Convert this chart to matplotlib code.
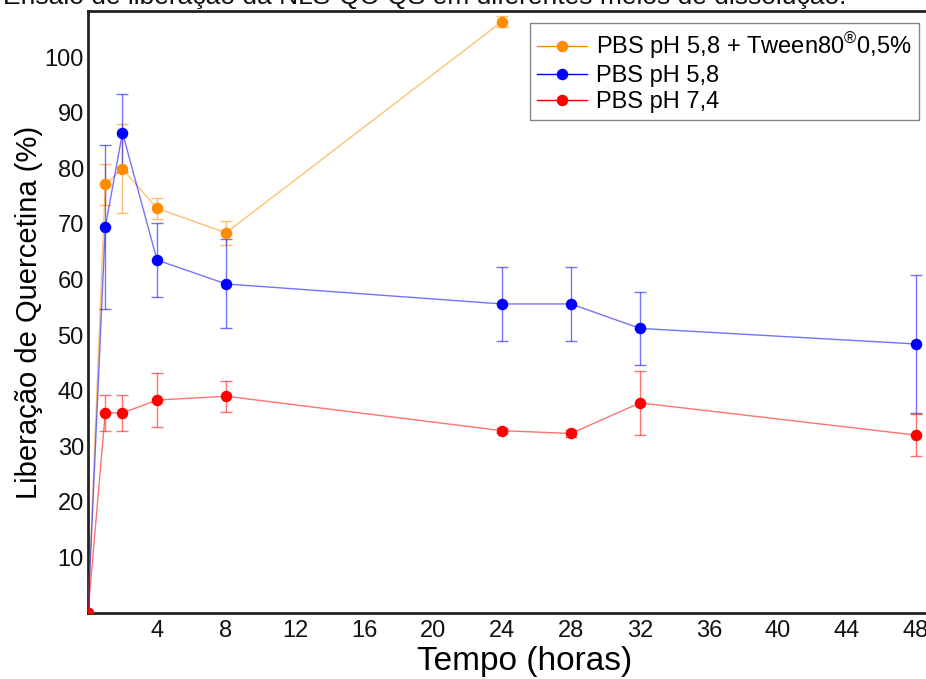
import matplotlib
matplotlib.use("Agg")
import matplotlib.pyplot as plt

plt.rcParams['font.family'] = ['Liberation Sans', 'DejaVu Sans']
plt.rcParams['mathtext.fontset'] = 'custom'
plt.rcParams['mathtext.rm'] = 'Liberation Sans'

# Release data (time in hours, % quercetin released, with SD)
tempo = [0, 1, 2, 4, 8, 24, 28, 32, 48]
tempo_tween = [0, 1, 2, 4, 8, 24]

tween_media = [0, 77.1, 79.9, 72.8, 68.4, 106.4]
tween_dp = [0, 3.7, 8.0, 1.9, 2.2, 1.0]

ph58_media = [0, 69.4, 86.4, 63.5, 59.2, 55.6, 55.6, 51.2, 48.4]
ph58_dp = [0, 14.8, 7.0, 6.6, 8.0, 6.6, 6.6, 6.5, 12.4]

ph74_media = [0, 36.0, 36.0, 38.3, 39.0, 32.8, 32.3, 37.8, 32.0]
ph74_dp = [0, 3.2, 3.2, 4.8, 2.8, 0.5, 0.6, 5.8, 3.8]

x_ticks = [4, 8, 12, 16, 20, 24, 28, 32, 36, 40, 44, 48]
y_ticks = [10, 20, 30, 40, 50, 60, 70, 80, 90, 100]

W, H = 926, 679
fig = plt.figure(figsize=(W / 100, H / 100), dpi=100)
# axes runs a little past the right edge of the canvas
ax = fig.add_axes([88 / W, 66 / H, (962 - 88) / W, (613 - 11) / H])

series = [
    (tempo_tween, tween_media, tween_dp, '#ff8c00', 'PBS pH 5,8 + Tween80$^{\\circledR}$0,5%'),
    (tempo, ph58_media, ph58_dp, '#0000ff', 'PBS pH 5,8'),
    (tempo, ph74_media, ph74_dp, '#ff0000', 'PBS pH 7,4'),
]

handles = []
for x, y, e, c, lab in series:
    ax.errorbar(x, y, yerr=e, fmt='none', ecolor=c, elinewidth=1.0,
                capsize=4, capthick=1.0, alpha=0.55, zorder=2)
    ax.plot(x, y, '-', color=c, lw=1.0, alpha=0.55, zorder=3)
    ax.plot(x, y, 'o', color=c, ms=8.3, mec='none', zorder=4)
    h, = ax.plot([], [], '-', color=c, lw=1.0, marker='o', ms=8.3,
                 mec='none', label=lab)
    handles.append(h)

ax.set_xlim(0, 50.67)
ax.set_ylim(0, 108.3)
ax.set_xticks(x_ticks)
ax.set_yticks(y_ticks)
ax.tick_params(axis='both', length=0, labelsize=17, colors='#111111')
ax.tick_params(axis='y', pad=3)
ax.tick_params(axis='x', pad=5)

for s in ['left', 'bottom', 'top', 'right']:
    ax.spines[s].set_linewidth(2.0)
    ax.spines[s].set_color('#222222')

ax.set_xlabel('Tempo (horas)', fontsize=24, labelpad=3)
ax.set_ylabel('Liberação de Quercetina (%)', fontsize=21, labelpad=1)

leg = ax.legend(handles=handles, loc='upper left', fontsize=17,
                bbox_to_anchor=(530 / W, 1 - 23 / H), bbox_transform=fig.transFigure,
                frameon=True, fancybox=False, edgecolor='#666666',
                borderaxespad=0, borderpad=0.3, handlelength=2.1,
                handletextpad=0.4, labelspacing=0.18)
leg.get_frame().set_linewidth(1.0)
for lh in leg.get_lines():
    lh.set_alpha(None)
    lh.set_linewidth(1.0)

fig.text(3 / W, 1 - 4 / H, 'Ensaio de liberação da NLS-QC-QS em diferentes meios de dissolução.',
         fontsize=19, va='baseline', ha='left', color='#111111')

fig.savefig('out.png', dpi=100)
